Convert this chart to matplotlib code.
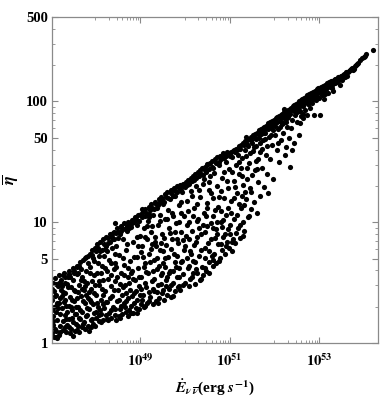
import numpy as np
import matplotlib.pyplot as plt
from matplotlib.ticker import FixedLocator, NullFormatter

plt.rcParams['font.family'] = 'Liberation Serif'
plt.rcParams['font.weight'] = 'bold'
plt.rcParams['mathtext.fontset'] = 'stix'

# points as (log10 E, log10 eta), one list per stretch of E
pts_47 = [(47.04,0.08),(47.06,0.15),(47.05,0.22),(47.08,0.30),(47.04,0.36),(47.07,0.43),(47.05,0.50),(47.10,0.54),
          (47.12,0.10),(47.14,0.19),(47.11,0.26),(47.15,0.33),(47.13,0.40),(47.16,0.47),(47.18,0.56),(47.19,0.07),
          (47.20,0.14),(47.22,0.24),(47.21,0.37),(47.24,0.52),(47.23,0.44),(47.26,0.29),(47.27,0.11),(47.28,0.18),
          (47.30,0.58),(47.29,0.34),(47.32,0.41),(47.33,0.23),(47.35,0.09),(47.36,0.49),(47.37,0.15),(47.38,0.55),
          (47.40,0.31),(47.41,0.60),(47.42,0.20),(47.44,0.38),(47.45,0.12),(47.46,0.46),(47.47,0.27),(47.49,0.62),
          (47.50,0.17),(47.51,0.52),(47.53,0.35),(47.54,0.10),(47.55,0.43),(47.57,0.24),(47.58,0.64),(47.59,0.57),
          (47.61,0.14),(47.62,0.30),(47.63,0.48),(47.65,0.67),(47.66,0.20),(47.67,0.39),(47.69,0.13),(47.70,0.55),
          (47.71,0.26),(47.72,0.69),(47.74,0.44),(47.75,0.17),(47.76,0.33),(47.78,0.60),(47.79,0.22),(47.80,0.71),
          (47.82,0.50),(47.83,0.14),(47.84,0.37),(47.86,0.28),(47.87,0.74),(47.88,0.63),(47.90,0.19),(47.91,0.45),
          (47.92,0.77),(47.94,0.32),(47.95,0.16),(47.96,0.56),(47.98,0.25),(47.99,0.79),(47.97,0.68),
          (47.035,0.27),(47.09,0.12),(47.17,0.29),(47.03,0.45),(47.25,0.39),(47.31,0.13),(47.34,0.31),(47.39,0.46),
          (47.43,0.08),(47.48,0.21),(47.52,0.44),(47.56,0.16),(47.60,0.37),(47.64,0.09),(47.68,0.61),(47.73,0.35),
          (47.77,0.12),(47.81,0.29),(47.85,0.42),(47.89,0.58),(47.93,0.20),(47.97,0.41),(47.07,0.05),(47.19,0.50),
          (47.26,0.47),(47.36,0.26),(47.44,0.55),(47.57,0.30),(47.62,0.58),(47.74,0.51),(47.83,0.66),(47.91,0.13),
          (47.99,0.48),(47.15,0.04),(47.47,0.36),(47.70,0.45),(47.28,0.56),(47.66,0.27),(47.88,0.36),(47.54,0.24),
          (47.05,0.18),(47.09,0.39),(47.13,0.05),(47.18,0.33),(47.22,0.09),(47.27,0.42),(47.31,0.50),(47.35,0.20),
          (47.40,0.13),(47.45,0.30),(47.50,0.06),(47.53,0.58),(47.58,0.11),(47.63,0.21),(47.67,0.52),(47.72,0.16),
          (47.77,0.47),(47.82,0.23),(47.86,0.10),(47.90,0.34),(47.95,0.70),(48.00,0.14),(47.12,0.31),(47.33,0.36),
          (47.61,0.42),(47.79,0.40),(47.93,0.51)]

pts_48 = [(48.01,0.21),(48.02,0.40),(48.03,0.82),(48.04,0.58),(48.06,0.30),(48.07,0.18),(48.08,0.72),(48.09,0.48),
          (48.11,0.84),(48.12,0.24),(48.13,0.36),(48.15,0.64),(48.16,0.19),(48.17,0.86),(48.18,0.52),(48.20,0.29),
          (48.21,0.78),(48.22,0.43),(48.24,0.88),(48.25,0.20),(48.26,0.60),(48.27,0.34),(48.29,0.83),(48.30,0.69),
          (48.31,0.25),(48.33,0.90),(48.34,0.47),(48.35,0.21),(48.36,0.56),(48.38,0.39),(48.39,0.86),(48.40,0.30),
          (48.42,0.92),(48.43,0.66),(48.44,0.23),(48.45,0.51),(48.47,0.80),(48.48,0.35),(48.49,0.95),(48.50,0.44),
          (48.52,0.22),(48.53,0.73),(48.54,0.91),(48.55,0.28),(48.57,0.58),(48.58,0.97),(48.59,0.40),(48.60,0.24),
          (48.62,0.86),(48.63,0.65),(48.64,0.33),(48.65,0.99),(48.67,0.48),(48.68,0.26),(48.69,0.77),(48.70,0.93),
          (48.72,0.37),(48.73,0.55),(48.74,1.00),(48.75,0.27),(48.77,0.68),(48.78,0.44),(48.79,0.96),(48.80,0.31),
          (48.82,1.02),(48.83,0.60),(48.84,0.25),(48.85,0.84),(48.87,0.41),(48.88,1.04),(48.89,0.52),(48.90,0.29),
          (48.92,0.98),(48.93,0.71),(48.94,0.36),(48.95,1.06),(48.97,0.47),(48.98,0.28),(48.99,0.89),(48.96,0.62),
          (48.05,0.66),(48.10,0.27),(48.14,0.45),(48.19,0.72),(48.23,0.23),(48.28,0.53),(48.32,0.37),(48.37,0.79),
          (48.41,0.61),(48.46,0.19),(48.51,0.87),(48.56,0.49),(48.61,0.70),(48.66,0.30),(48.71,0.82),(48.76,0.50),
          (48.81,0.39),(48.86,0.71),(48.91,0.43),(48.96,0.80),(48.03,0.33),(48.12,0.58),(48.18,0.32),(48.26,0.76),
          (48.34,0.27),(48.41,0.44),(48.47,0.63),(48.58,0.31),(48.64,0.56),(48.72,0.62),(48.79,0.25),(48.85,0.53),
          (48.93,0.88),(48.99,0.40),(48.08,0.23),(48.53,0.36),(48.69,0.41),(48.22,0.62),(48.44,0.74),
          (48.02,0.26),(48.07,0.51),(48.13,0.17),(48.17,0.40),(48.24,0.34),(48.29,0.19),(48.36,0.66),(48.43,0.28),
          (48.49,0.55),(48.55,0.21),(48.62,0.46),(48.68,0.35),(48.74,0.22),(48.80,0.58),(48.86,0.33),(48.92,0.25),
          (48.97,0.55),(48.15,0.77),(48.39,0.91),(48.57,0.93),(48.77,0.98),(48.90,1.03)]

pts_49 = [(49.01,0.32),(49.02,1.07),(49.03,0.55),(49.04,0.80),(49.06,0.40),(49.07,1.09),(49.08,0.95),(49.09,0.30),
          (49.11,0.66),(49.12,1.11),(49.13,0.46),(49.15,0.86),(49.16,0.33),(49.17,1.01),(49.18,0.58),(49.20,1.13),
          (49.21,0.74),(49.22,0.38),(49.24,0.92),(49.25,1.15),(49.26,0.51),(49.28,0.32),(49.29,1.06),(49.30,0.69),
          (49.31,0.43),(49.33,1.17),(49.34,0.84),(49.35,0.35),(49.37,0.61),(49.38,1.12),(49.39,0.98),(49.40,0.48),
          (49.42,1.19),(49.43,0.37),(49.44,0.77),(49.46,0.56),(49.47,1.21),(49.48,0.90),(49.49,0.41),(49.51,1.15),
          (49.52,0.66),(49.53,0.36),(49.55,1.23),(49.56,1.03),(49.57,0.52),(49.58,0.81),(49.60,0.40),(49.61,1.25),
          (49.62,0.71),(49.64,0.95),(49.65,0.45),(49.66,1.19),(49.67,0.60),(49.69,1.27),(49.70,0.38),(49.71,0.86),
          (49.72,1.08),(49.74,0.50),(49.75,1.28),(49.76,0.74),(49.78,0.43),(49.79,1.22),(49.80,0.99),(49.81,0.63),
          (49.83,1.30),(49.84,0.46),(49.85,0.83),(49.87,1.14),(49.88,0.55),(49.89,1.31),(49.90,0.44),(49.92,0.92),
          (49.93,0.68),(49.94,1.25),(49.96,0.48),(49.97,1.32),(49.98,0.77),(49.99,1.05),
          (49.03,0.75),(49.05,0.36),(49.10,0.88),(49.14,0.59),(49.19,0.42),(49.23,0.67),(49.27,0.97),(49.32,0.53),
          (49.36,0.80),(49.41,0.33),(49.45,1.01),(49.50,0.58),(49.54,0.87),(49.59,0.47),(49.63,1.10),(49.68,0.78),
          (49.73,0.39),(49.77,0.92),(49.82,0.55),(49.86,1.00),(49.91,0.67),(49.95,0.85),(49.12,0.31),(49.21,1.04),
          (49.29,0.45),(49.38,0.70),(49.47,0.49),(49.56,0.63),(49.66,0.91),(49.74,0.60),(49.83,0.72),(49.92,1.17),
          (49.08,0.63),(49.44,1.06),(49.61,0.55),(49.88,0.47),(49.26,0.82),(49.52,0.76)]

pts_50 = [(50.01,0.50),(50.02,1.33),(50.03,0.89),(50.05,1.18),(50.06,0.62),(50.07,1.35),(50.09,0.47),(50.10,1.00),
          (50.11,0.76),(50.13,1.37),(50.14,1.26),(50.15,0.55),(50.17,0.93),(50.18,1.38),(50.19,0.68),(50.21,1.12),
          (50.22,0.49),(50.23,1.40),(50.25,0.84),(50.26,1.30),(50.27,0.58),(50.29,1.42),(50.30,1.03),(50.31,0.72),
          (50.33,0.52),(50.34,1.43),(50.35,1.21),(50.37,0.90),(50.38,0.63),(50.39,1.45),(50.41,0.56),(50.42,1.08),
          (50.43,1.36),(50.45,0.79),(50.46,1.46),(50.47,0.60),(50.49,1.16),(50.50,0.97),(50.51,1.48),(50.53,0.67),
          (50.54,1.33),(50.55,0.58),(50.57,1.49),(50.58,0.86),(50.59,1.24),(50.61,1.51),(50.62,0.64),(50.63,1.05),
          (50.65,1.41),(50.66,0.74),(50.67,1.52),(50.69,0.94),(50.70,0.66),(50.71,1.30),(50.73,1.54),(50.74,0.82),
          (50.75,1.13),(50.77,1.47),(50.78,0.70),(50.79,1.55),(50.81,1.00),(50.82,0.77),(50.83,1.37),(50.85,1.57),
          (50.86,0.88),(50.87,1.20),(50.89,0.74),(50.90,1.56),(50.91,1.50),(50.93,1.06),(50.94,0.84),(50.95,1.58),
          (50.97,1.28),(50.98,0.79),(50.99,1.44),
          (50.04,0.70),(50.08,1.09),(50.12,0.53),(50.16,1.22),(50.20,0.81),(50.24,0.61),(50.28,1.15),(50.32,0.95),
          (50.36,0.53),(50.40,1.32),(50.44,0.70),(50.48,1.05),(50.52,0.83),(50.56,1.38),(50.60,0.72),(50.64,1.20),
          (50.68,0.87),(50.72,1.00),(50.76,0.68),(50.80,1.26),(50.84,0.96),(50.88,1.42),(50.92,0.80),(50.96,1.12),
          (50.10,0.86),(50.27,1.01),(50.45,0.92),(50.62,0.95),(50.80,1.09),(50.97,0.94),(50.18,0.58),(50.53,1.27)]

pts_51 = [(51.01,1.57),(51.02,0.90),(51.03,1.18),(51.05,1.54),(51.06,0.76),(51.07,1.59),(51.09,1.34),(51.10,1.03),
          (51.11,1.60),(51.13,0.83),(51.14,1.47),(51.15,1.61),(51.17,1.24),(51.18,0.95),(51.19,1.56),(51.21,1.63),
          (51.22,1.40),(51.23,0.87),(51.25,1.12),(51.26,1.64),(51.27,1.53),(51.29,1.00),(51.30,1.66),(51.31,1.31),
          (51.33,0.93),(51.34,1.60),(51.35,1.67),(51.37,1.19),(51.38,1.45),(51.39,1.68),(51.41,1.04),(51.42,1.63),
          (51.43,1.69),(51.45,1.28),(51.46,1.57),(51.47,1.11),(51.49,1.71),(51.50,1.66),(51.51,1.39),(51.53,1.72),
          (51.54,1.17),(51.55,1.62),(51.57,1.73),(51.58,1.51),(51.59,1.69),(51.61,1.08),(51.62,1.74),(51.63,1.33),
          (51.65,1.70),(51.66,1.76),(51.67,1.58),(51.69,1.22),(51.70,1.73),(51.71,1.77),(51.73,1.45),(51.74,1.78),
          (51.75,1.68),(51.77,1.29),(51.78,1.79),(51.79,1.74),(51.81,1.56),(51.82,1.80),(51.83,1.40),(51.85,1.77),
          (51.86,1.82),(51.87,1.24),(51.89,1.71),(51.90,1.83),(51.91,1.52),(51.93,1.79),(51.94,1.84),(51.95,1.64),
          (51.97,1.81),(51.98,1.36),(51.99,1.85),
          (51.04,1.08),(51.08,0.86),(51.12,1.29),(51.16,1.06),(51.20,1.50),(51.24,0.98),(51.28,1.38),(51.32,1.14),
          (51.36,1.55),(51.40,1.36),(51.44,1.49),(51.48,1.25),(51.52,1.59),(51.56,1.43),(51.60,1.63),(51.64,1.52),
          (51.68,1.66),(51.72,1.61),(51.76,1.74),(51.80,1.69),(51.84,1.63),(51.88,1.80),(51.92,1.72),(51.96,1.76),
          (51.06,1.42),(51.27,1.22),(51.44,1.05),(51.62,1.44)]

pts_52 = [(52.01,1.80),(52.02,1.72),(52.03,1.86),(52.05,1.60),(52.06,1.83),(52.07,1.87),(52.09,1.77),(52.10,1.50),
          (52.11,1.88),(52.13,1.84),(52.14,1.68),(52.15,1.89),(52.17,1.81),(52.18,1.90),(52.19,1.74),(52.21,1.86),
          (52.22,1.91),(52.23,1.56),(52.25,1.88),(52.26,1.83),(52.27,1.92),(52.29,1.79),(52.30,1.93),(52.31,1.87),
          (52.33,1.70),(52.34,1.94),(52.35,1.46),(52.36,1.90),(52.38,1.95),(52.39,1.85),(52.40,1.60),(52.41,1.96),
          (52.43,1.92),(52.44,1.66),(52.45,1.97),(52.47,1.89),(52.48,1.98),(52.49,1.94),(52.51,1.83),(52.52,1.99),
          (52.53,1.95),(52.55,1.72),(52.56,2.00),(52.57,1.92),(52.59,2.01),(52.60,1.88),(52.62,2.02),(52.63,1.97),
          (52.64,1.90),(52.66,2.03),(52.67,1.99),(52.69,1.93),(52.70,2.04),(52.71,2.00),(52.73,1.89),(52.74,2.05),
          (52.76,1.98),(52.77,2.06),(52.79,2.02),(52.80,1.95),(52.82,2.07),(52.83,2.03),(52.85,1.99),(52.86,2.08),
          (52.88,2.05),(52.89,1.89),(52.90,2.09),(52.92,2.04),(52.93,2.01),(52.95,2.10),(52.96,2.06),(52.98,2.11),
          (52.99,2.03),
          (52.04,1.83),(52.08,1.66),(52.12,1.79),(52.16,1.86),(52.20,1.82),(52.24,1.90),(52.28,1.86),(52.32,1.91),
          (52.37,1.78),(52.42,1.93),(52.46,1.94),(52.50,1.91),(52.54,1.97),(52.58,1.96),(52.61,1.99),(52.65,1.96),
          (52.68,2.02),(52.72,2.03),(52.75,2.01),(52.78,1.99),(52.81,2.04),(52.84,2.06),(52.87,2.02),(52.91,2.07),
          (52.94,2.05),(52.97,2.08),(52.27,1.62),(52.58,1.82),(52.65,1.86)]

pts_53 = [(53.01,2.08),(53.03,1.89),(53.04,2.12),(53.06,2.05),(53.08,2.13),(53.10,2.09),(53.12,2.02),(53.14,2.14),
          (53.16,2.10),(53.18,2.15),(53.20,2.07),(53.22,2.16),(53.24,2.12),(53.27,2.17),(53.29,2.14),(53.31,2.09),
          (53.33,2.18),(53.36,2.15),(53.38,2.19),(53.41,2.16),(53.43,2.20),(53.46,2.14),(53.48,2.21),(53.51,2.18),
          (53.54,2.22),(53.57,2.20),(53.60,2.24),(53.63,2.21),(53.67,2.25),(53.71,2.27),(53.75,2.26),(53.80,2.29),
          (53.85,2.31),(53.88,2.32),(53.96,2.36),(54.01,2.37),(54.05,2.39),(54.20,2.43),
          (53.02,2.10),(53.05,2.09),(53.09,2.11),(53.13,2.06),(53.17,2.13),(53.21,2.14),(53.25,2.15),(53.28,2.11),
          (53.32,2.16),(53.35,2.19),(53.39,2.17),(53.44,2.18),(53.47,2.19),(53.52,2.21),(53.56,2.23),(53.61,2.22),
          (53.65,2.24),(53.69,2.26),(53.73,2.28),(53.78,2.27),(53.83,2.30),(53.92,2.34),(54.03,2.38)]

# dense upper ridge just under the top edge
pts_ridge = [(47.12,0.49),(47.21,0.50),(47.33,0.55),(47.42,0.57),(47.52,0.60),(47.60,0.63),(47.64,0.64),(47.76,0.70),
             (47.84,0.72),(47.93,0.73),(48.01,0.76),(48.06,0.79),(48.10,0.76),(48.19,0.82),(48.23,0.80),(48.28,0.87),
             (48.32,0.84),(48.37,0.88),(48.41,0.86),(48.46,0.91),(48.51,0.92),(48.56,0.90),(48.60,0.95),(48.66,0.94),
             (48.71,0.97),(48.76,0.95),(48.81,0.99),(48.86,1.00),(48.91,1.02),(48.97,1.01),(49.04,1.04),(49.10,1.05),
             (49.14,1.08),(49.19,1.07),(49.23,1.10),(49.27,1.12),(49.32,1.11),(49.36,1.15),(49.41,1.14),(49.45,1.17),
             (49.50,1.19),(49.54,1.17),(49.59,1.21),(49.63,1.20),(49.68,1.24),(49.73,1.22),(49.77,1.26),(49.82,1.25),
             (49.86,1.28),(49.91,1.27),(49.95,1.30),(50.00,1.29),(50.04,1.31),(50.09,1.32),(50.15,1.34),(50.20,1.35),
             (50.24,1.37),(50.31,1.38),(50.36,1.40),(50.40,1.39),(50.44,1.43),(50.48,1.42),(50.55,1.44),(50.60,1.46),
             (50.64,1.45),(50.70,1.49),(50.76,1.50),(50.81,1.52),(50.88,1.53),(50.93,1.55),(51.00,1.55),(51.04,1.58),
             (51.12,1.58),(51.17,1.60),(51.24,1.61),(51.32,1.64),(51.40,1.65),(51.48,1.68),(51.56,1.70),(51.64,1.73),
             (51.72,1.75),(51.80,1.77),(51.88,1.78),(51.96,1.82),(48.45,0.99),(49.05,1.11),(50.50,1.48),(51.36,1.71),
             (52.22,1.94)]

# extra scatter filling the middle of the band
pts_mid = [(49.02,0.45),(49.07,0.71),(49.11,0.50),(49.16,0.97),(49.20,0.35),(49.24,0.78),(49.28,0.60),(49.33,0.88),
           (49.37,0.42),(49.42,0.64),(49.46,0.83),(49.51,0.44),(49.55,0.70),(49.60,1.03),(49.64,0.58),(49.69,0.48),
           (49.73,1.05),(49.78,0.67),(49.82,0.86),(49.87,0.62),(49.91,1.08),(49.96,0.57),(50.01,0.80),(50.05,0.98),
           (50.09,0.64),(50.14,0.74),(50.18,1.05),(50.23,0.67),(50.27,0.88),(50.32,1.27),(50.36,0.77),(50.41,0.98),
           (50.45,0.62),(50.50,1.12),(50.54,0.76),(50.59,0.99),(50.63,0.69),(50.68,1.10),(50.72,0.90),(50.77,1.21),
           (50.81,0.82),(50.86,1.02),(50.90,0.90),(50.95,1.34),(51.00,0.98),(51.05,0.84),(51.10,1.20),(51.15,0.91),
           (51.20,1.15),(51.26,1.45),(51.30,0.89),(51.35,1.25)]

xticks = [1e49, 1e51, 1e53]
xticklabels = [r'$\mathbf{10^{49}}$', r'$\mathbf{10^{51}}$', r'$\mathbf{10^{53}}$']
yticks = [1, 5, 10, 50, 100, 500]

data = np.array(pts_47 + pts_48 + pts_49 + pts_50 + pts_51 + pts_52 + pts_53 + pts_ridge + pts_mid)
E = 10 ** data[:, 0]
eta = 10 ** data[:, 1]

fig = plt.figure(figsize=(3.82, 3.97), dpi=100)
ax = fig.add_axes([0.136, 0.136, 0.854, 0.821])
ax.scatter(E, eta, s=14, c='black', linewidths=0)

ax.set_xscale('log')
ax.set_yscale('log')
ax.set_xlim(1.07e47, 2.1e54)
ax.set_ylim(1, 500)

ax.xaxis.set_major_locator(FixedLocator(xticks))
ax.set_xticklabels(xticklabels)
xminor = [m * 10.0 ** d for d in (48, 50, 52) for m in range(1, 10)]
ax.xaxis.set_minor_locator(FixedLocator(xminor))
ax.xaxis.set_minor_formatter(NullFormatter())

ax.yaxis.set_major_locator(FixedLocator(yticks))
ax.set_yticklabels([str(v) for v in yticks])
yminor = [m * 10.0 ** d for d in (0, 1, 2) for m in range(2, 10) if m != 5]
ax.yaxis.set_minor_locator(FixedLocator(yminor))
ax.yaxis.set_minor_formatter(NullFormatter())

for sp in ax.spines.values():
    sp.set_color('#8a8a8a')
    sp.set_linewidth(0.9)
ax.tick_params(which='both', direction='in', top=True, right=True, color='#8a8a8a', labelsize=10.5)
ax.tick_params(which='major', length=4, width=0.8)
ax.tick_params(which='minor', length=2, width=0.6)
ax.tick_params(axis='x', pad=7)
ax.tick_params(axis='y', pad=3)

ax.set_xlabel(r'$\dot{\mathbfit{E}}_{\mathbfit{\nu}\,\overline{\mathbfit{\nu}}}$(erg $\mathbfit{s}^{\mathbf{-1}}$)',
              fontsize=11, fontweight='bold', labelpad=6)
ax.set_ylabel(r'$\overline{\mathbfit{\eta}}$', fontsize=12, labelpad=4)

plt.savefig('out.png', dpi=100)
